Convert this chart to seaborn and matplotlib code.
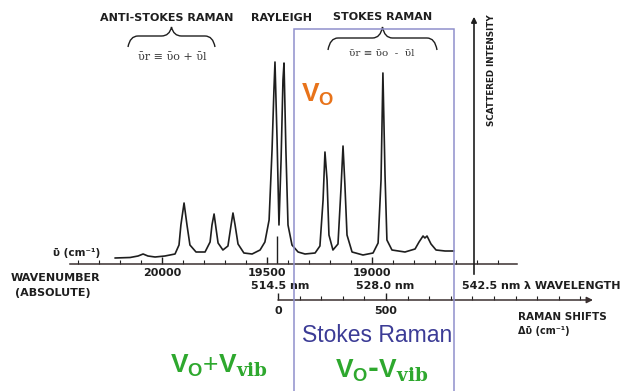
import matplotlib
matplotlib.use("Agg")
import matplotlib.pyplot as plt
import matplotlib.patches as mpatches
from matplotlib.path import Path
from matplotlib import transforms
from matplotlib.ticker import MultipleLocator
import seaborn as sns

# ---------------- data ----------------
wavenumber = [20224, 20152, 20114, 20090, 20067, 20033, 19986, 19938, 19919, 19910,
              19895, 19881, 19867, 19838, 19795, 19771, 19762, 19752, 19743, 19733,
              19710, 19686, 19671, 19662, 19652, 19638, 19610, 19571, 19533, 19510,
              19490, 19476, 19467, 19462, 19452, 19443, 19433, 19424, 19419, 19410,
              19400, 19381, 19352, 19319, 19271, 19248, 19233, 19224, 19214, 19205,
              19186, 19162, 19148, 19138, 19129, 19119, 19095, 19043, 18995, 18971,
              18957, 18948, 18938, 18929, 18905, 18843, 18795, 18776, 18757, 18748,
              18738, 18719, 18695, 18652, 18610]
intensity = [6, 6.5, 8, 10, 8, 7, 8, 10, 19, 39,
             61, 39, 19, 12, 12, 22, 39, 50, 36, 21,
             14, 18, 39, 51, 39, 20, 11, 10, 14, 22,
             44, 114, 174, 202, 124, 39, 104, 184, 201, 114,
             39, 19, 12, 10, 11, 18, 64, 112, 84, 29,
             14, 20, 74, 118, 79, 29, 12, 9, 11, 21,
             84, 191, 89, 24, 14, 12, 15, 22, 28, 26,
             28, 20, 14, 13, 13]
wn_tick_labels = [20000, 19500, 19000]
wavelength_nm = [514.5, 528.0, 542.5]
shift_tick_labels = [0, 500]
laser_marker_wn = 19450
laser_marker_height = 28

# ---------------- setup ----------------
sns.set_theme(style="white")
plt.rcParams["font.family"] = ["DejaVu Sans"]
plt.rcParams["mathtext.fontset"] = "custom"
plt.rcParams["mathtext.sf"] = "Liberation Sans:bold"
plt.rcParams["mathtext.bf"] = "DejaVu Serif:bold"
plt.rcParams["mathtext.rm"] = "Liberation Sans"

W, H = 629, 391
fig = plt.figure(figsize=(W / 100, H / 100), dpi=100)
fig.patch.set_facecolor("white")

def fx(x):
    return x / W

def fy(y):
    return 1 - y / H

pix = transforms.Affine2D().scale(1 / W, -1 / H).translate(0, 1) + fig.transFigure
ink = "#1e1e1e"

# ---------------- main spectrum axes ----------------
px_per_cm = 0.21
ax = fig.add_axes([fx(70), fy(264), (517 - 70) / W, (264 - 15) / H])
ax.patch.set_alpha(0)
ax.set_xlim(20000 + (162 - 70) / px_per_cm, 20000 - (517 - 162) / px_per_cm)
ax.set_ylim(0, 249)
sns.lineplot(x=wavenumber, y=intensity, sort=False, estimator=None,
             color=ink, lw=1.2, ax=ax)
ax.vlines(laser_marker_wn, 0, laser_marker_height, color=ink, lw=1.0)
for s in ["top", "right", "left"]:
    ax.spines[s].set_visible(False)
ax.spines["bottom"].set_color("#3a3030")
ax.spines["bottom"].set_linewidth(1.1)
ax.set_yticks([])
ax.set_xticks(wn_tick_labels)
ax.set_xticklabels([str(v) for v in wn_tick_labels], fontsize=8, fontweight="bold", color=ink)
ax.xaxis.set_minor_locator(MultipleLocator(100))
ax.tick_params(axis="x", which="major", direction="in", length=5, width=1, color=ink, pad=3.2, bottom=True)
ax.tick_params(axis="x", which="minor", direction="in", length=3, width=0.8, color=ink, bottom=True)
ax.set_xlabel("")
ax.set_ylabel("")

# wavelength labels under the wavenumber ticks
blend = transforms.blended_transform_factory(ax.transData, fig.transFigure)
for lam in wavelength_nm:
    ax.text(1e7 / lam, fy(286), f"{lam:.1f} nm", transform=blend, ha="center", va="center",
            fontsize=8, fontweight="bold", color=ink)
fig.text(fx(524), fy(286), "λ WAVELENGTH", ha="left", va="center", fontsize=8,
         fontweight="bold", color=ink)

# ---------------- Raman shift axis ----------------
shift_px = 0.216
ax2 = fig.add_axes([fx(278), fy(300), (593 - 278) / W, 0.001])
ax2.patch.set_alpha(0)
ax2.set_xlim(0, (593 - 278) / shift_px)
ax2.set_ylim(0, 1)
for s in ["top", "right", "left", "bottom"]:
    ax2.spines[s].set_visible(False)
ax2.set_yticks([])
ax2.set_xticks(shift_tick_labels)
ax2.set_xticklabels([str(v) for v in shift_tick_labels], fontsize=8, fontweight="bold", color=ink)
ax2.xaxis.set_minor_locator(MultipleLocator(100))
ax2.tick_params(axis="x", which="major", direction="in", length=5, width=1, color=ink, pad=4, bottom=True)
ax2.tick_params(axis="x", which="minor", direction="in", length=3, width=0.8, color=ink, bottom=True)
ax2.annotate("", xy=(1.0, 0), xytext=(0, 0), xycoords="axes fraction",
             arrowprops=dict(arrowstyle="-|>", lw=1.1, color="#3a3030", mutation_scale=9,
                             shrinkA=0, shrinkB=0))

# ---------------- scattered intensity axis ----------------
fig.add_artist(mpatches.FancyArrowPatch((fx(474), fy(277)), (fx(474), fy(14)),
                                        transform=fig.transFigure, arrowstyle="-|>",
                                        mutation_scale=8, lw=1.2, color=ink))
fig.text(fx(491), fy(70), "SCATTERED INTENSITY", rotation=90, ha="center", va="center",
         fontsize=6.3, fontweight="bold", color=ink)

# ---------------- braces ----------------
def brace(x0, x1, ytip, ylevel, yend):
    xm = (x0 + x1) / 2
    d = 10
    verts = [(x0, yend), (x0 + 2, ylevel), (x0 + d, ylevel),
             (xm - d, ylevel), (xm - 2, ylevel), (xm, ytip),
             (xm + 2, ylevel), (xm + d, ylevel),
             (x1 - d, ylevel), (x1 - 2, ylevel), (x1, yend)]
    codes = [Path.MOVETO, Path.CURVE3, Path.CURVE3,
             Path.LINETO, Path.CURVE3, Path.CURVE3,
             Path.CURVE3, Path.CURVE3,
             Path.LINETO, Path.CURVE3, Path.CURVE3]
    fig.add_artist(mpatches.PathPatch(Path(verts, codes), transform=pix, fill=False,
                                      lw=1.0, ec=ink))

brace(128, 215, 27, 36, 47)
brace(328, 437, 27, 38, 50)

# ---------------- top headings and formulas ----------------
fig.text(fx(167), fy(18), "ANTI-STOKES RAMAN", ha="center", va="center", fontsize=8,
         fontweight="bold", color=ink)
fig.text(fx(282), fy(18), "RAYLEIGH", ha="center", va="center", fontsize=8,
         fontweight="bold", color=ink)
fig.text(fx(383), fy(17), "STOKES RAMAN", ha="center", va="center", fontsize=8,
         fontweight="bold", color=ink)
fig.text(fx(172), fy(57), "ῡr ≡ ῡo + ῡl", ha="center", va="center", fontsize=8,
         family="DejaVu Serif", color="#3a3a3a")
fig.text(fx(382), fy(54), "ῡr ≡ ῡo  -  ῡl", ha="center", va="center", fontsize=7.5,
         family="DejaVu Serif", color="#3a3a3a")

# ---------------- left labels ----------------
fig.text(fx(77), fy(253), "ῡ (cm⁻¹)", ha="center", va="center", fontsize=7.5,
         fontweight="bold", color=ink)
fig.text(fx(55), fy(278), "WAVENUMBER", ha="center", va="center", fontsize=8,
         fontweight="bold", color=ink)
fig.text(fx(53), fy(293), "(ABSOLUTE)", ha="center", va="center", fontsize=8,
         fontweight="bold", color=ink)
fig.text(fx(518), fy(317), "RAMAN SHIFTS", ha="left", va="center", fontsize=7.5,
         fontweight="bold", color=ink)
fig.text(fx(518), fy(331), "Δῡ (cm⁻¹)", ha="left", va="center", fontsize=7,
         fontweight="bold", color=ink)

# ---------------- highlight box and coloured labels ----------------
fig.add_artist(mpatches.Rectangle((fx(294), fy(395)), (454 - 294) / W, (395 - 29) / H,
                                  transform=fig.transFigure, fill=False, ec="#9090CC", lw=1.1))
fig.text(fx(301), fy(82), r"$\mathsf{V}_{\mathsf{O}}$", ha="left", va="top", fontsize=19,
         color="#E8731A")
fig.text(fx(377), fy(336), "Stokes Raman", ha="center", va="center", fontsize=16.5,
         family="Liberation Sans", color="#3C3C96")
fig.text(fx(219), fy(366), r"$\mathsf{V}_{\mathsf{O}}\mathrm{+}\mathsf{V}_{\mathbf{vib}}$",
         ha="center", va="center", fontsize=19, color="#2EA82E")
fig.text(fx(382), fy(371), r"$\mathsf{V}_{\mathsf{O}}$-$\mathsf{V}_{\mathbf{vib}}$",
         ha="center", va="center", fontsize=19, fontweight="bold", color="#2EA82E")

fig.savefig("out.png", dpi=100, facecolor="white")
